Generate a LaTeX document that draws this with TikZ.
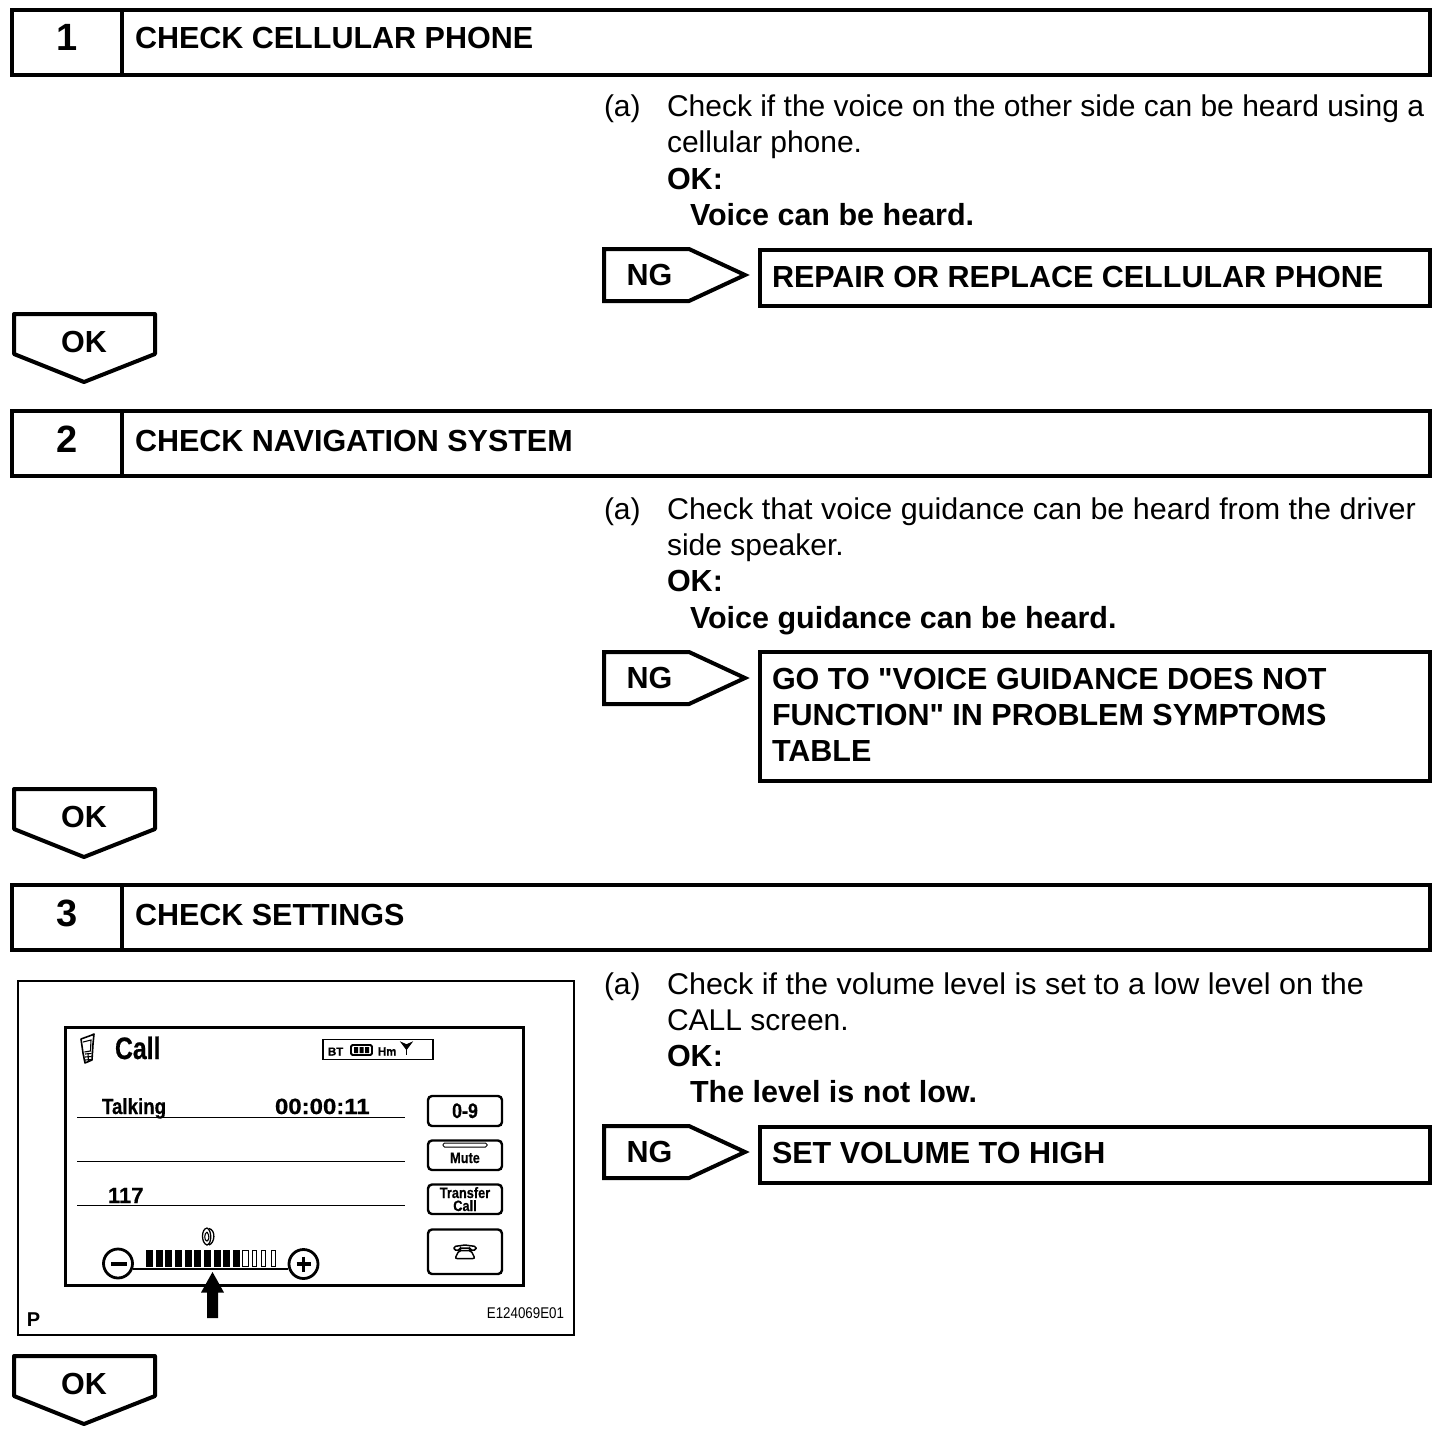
\documentclass[tikz,border=0pt]{standalone}
\usepackage{fontspec}
\setmainfont{Liberation Sans}[Ligatures=TeXOff]
\newcommand{\fsz}[1]{\fontsize{#1}{#1}\selectfont}
\newfontfamily\scrfont{Liberation Sans}[Ligatures=TeXOff,BoldFont={Liberation Sans Bold},BoldFeatures={FakeBold=0.6}]
\tikzset{
  every node/.style={inner sep=0pt,outer sep=0pt,text=black},
  heavy/.style={draw=black,line width=4pt,line join=miter},
  hdr/.style={anchor=base west,font=\fsz{30.5}\bfseries},
  num/.style={anchor=base,font=\fsz{38}\bfseries},
  body/.style={anchor=base west,font=\fsz{30}},
  bodyb/.style={anchor=base west,font=\fsz{30.5}\bfseries},
  act/.style={anchor=base west,font=\fsz{30.5}\bfseries},
  flag/.style={anchor=base,font=\fsz{30.5}\bfseries},
  btn/.style={draw=black,line width=2.4pt,rounded corners=4pt},
  rule/.style={draw=black,line width=1pt},
  scr/.style={anchor=base,font=\scrfont\fsz{#1}\bfseries},
}
\newcommand{\stephead}[4]{% y, number, title, title baseline offset
  \draw[heavy] (12,#1) rectangle (1430,#1+65);
  \draw[heavy] (122,#1) -- (122,#1+65);
  \node[num] (n#2) at (67.5,#1+41) {#2};
  \node[hdr] (t#2) at (135,#1+#4) {#3};
}
\newcommand{\okflag}[2]{% y, name
  \draw[heavy,line join=round] (14,#1) -- (155,#1) -- (155,#1+40) -- (84,#1+68) -- (14,#1+40) -- cycle;
  \node[flag] (#2) at (84,#1+38.5) {OK};
}
\newcommand{\ngflag}[2]{% y, name
  \draw[heavy] (604,#1) -- (689,#1) -- (745,#1+26) -- (689,#1+52) -- (604,#1+52) -- cycle;
  \node[flag] (#2) at (649.5,#1+36) {NG};
}
\begin{document}
\begin{tikzpicture}[x=1pt,y=-1pt]
\useasboundingbox (0,0) rectangle (1456,1450);
% ---------- step 1
\stephead{10}{1}{CHECK CELLULAR PHONE}{39}
\node[body] (a1) at (604,117) {(a)};
\node[body] (a1l1) at (667,117) {Check if the voice on the other side can be heard using a};
\node[body] (a1l2) at (667,153) {cellular phone.};
\node[bodyb] (a1l3) at (667,189.5) {OK:};
\node[bodyb] (a1l4) at (690,225.5) {Voice can be heard.};
\ngflag{249}{ng1}
\draw[heavy] (760,250) rectangle (1430,306);
\node[act] (r1) at (772,287) {REPAIR OR REPLACE CELLULAR PHONE};
\okflag{314}{ok1}
% ---------- step 2
\stephead{411}{2}{CHECK NAVIGATION SYSTEM}{40}
\node[body] (a2) at (604,519) {(a)};
\node[body] (a2l1) at (667,519) {\scalebox{1.016}[1]{Check that voice guidance can be heard from the driver}};
\node[body] (a2l2) at (667,555) {side speaker.};
\node[bodyb] (a2l3) at (667,591.5) {OK:};
\node[bodyb] (a2l4) at (690,628.5) {Voice guidance can be heard.};
\ngflag{652}{ng2}
\draw[heavy] (760,652) rectangle (1430,781);
\node[act] (r2a) at (772,689) {GO TO "VOICE GUIDANCE DOES NOT};
\node[act] (r2b) at (772,725) {FUNCTION" IN PROBLEM SYMPTOMS};
\node[act] (r2c) at (772,761) {TABLE};
\okflag{789}{ok2}
% ---------- step 3
\stephead{885}{3}{CHECK SETTINGS}{40}
\node[body] (a3) at (604,994) {(a)};
\node[body] (a3l1) at (667,994) {\scalebox{1.017}[1]{Check if the volume level is set to a low level on the}};
\node[body] (a3l2) at (667,1030) {CALL screen.};
\node[bodyb] (a3l3) at (667,1066.5) {OK:};
\node[bodyb] (a3l4) at (690,1102.5) {The level is not low.};
\ngflag{1126}{ng3}
\draw[heavy] (760,1127) rectangle (1430,1183);
\node[act] (r3) at (772,1163) {SET VOLUME TO HIGH};
\okflag{1356}{ok3}
% ---------- illustration
\draw[draw=black,line width=2pt] (18,981) rectangle (574,1335);
\draw[draw=black,line width=3pt] (65,1027) rectangle (523,1285);
% cellular phone icon
\draw[line width=1.6pt,fill=white,line join=round] (81,1039) -- (92,1035) -- (94,1034) -- (93,1044) -- (92,1060) -- (85,1063) -- (83,1053) -- cycle;
\draw[line width=1.1pt] (83,1042) -- (91,1040) -- (90.5,1051) -- (84.5,1052);
\foreach \yy in {1054,1057,1060} \draw[line width=1.1pt] (85,\yy) -- (91.5,\yy-.5);
\draw[line width=1.1pt] (88,1053) -- (88.5,1062);
\node[scr=31,anchor=base west] (call) at (115,1059) {\scalebox{.8}[1]{Call}};
% status box
\draw[line width=1.1pt] (323,1039.5) rectangle (433,1059.5);
\node[scr=11.5,anchor=base west] (bt) at (328,1055.5) {BT};
\draw[line width=1.8pt,rounded corners=1.5pt] (351,1045) rectangle (372,1055);
\fill (354,1047) rectangle (358,1053) (359.5,1047) rectangle (363.5,1053) (365,1047) rectangle (369,1053);
\node[scr=12,anchor=base west] (hm) at (378,1055.5) {\scalebox{.95}[1]{Hm}};
\draw[line width=1.4pt,fill=black] (402,1043) -- (406.5,1049) -- (411,1043) -- (406.5,1045) -- cycle;
\draw[line width=1.6pt] (406.5,1047) -- (406.5,1055);
% lines
\draw[rule] (77,1117) -- (405,1117);
\draw[rule] (77,1161) -- (405,1161);
\draw[rule] (77,1205) -- (405,1205);
\node[scr=22,anchor=base west] (talk) at (102,1114) {\scalebox{.85}[1]{Talking}};
\node[scr=22,anchor=base west] (time) at (275,1114) {\scalebox{1.09}[1]{00:00:11}};
\node[scr=22,anchor=base west] (num) at (108,1203) {117};
% buttons
\draw[btn] (428,1096) rectangle (502,1126);
\node[scr=21] (b09) at (465,1118) {\scalebox{.85}[1]{0-9}};
\draw[btn] (428,1140.5) rectangle (502,1170);
\draw[line width=1pt,rounded corners=1.5pt] (443,1143) rectangle (487,1147);
\node[scr=15] (bmute) at (465,1163) {\scalebox{.85}[1]{Mute}};
\draw[btn] (428,1184.5) rectangle (502,1214);
\node[scr=15] (btr) at (465,1198) {\scalebox{.85}[1]{Transfer}};
\node[scr=15] (bca) at (465,1211) {\scalebox{.85}[1]{Call}};
\draw[btn] (428,1229.5) rectangle (502,1274);
% telephone glyph
\draw[line width=1.5pt,rounded corners=1.5pt] (454,1250) -- (454,1246.5) -- (465,1245) -- (476,1246.5) -- (476,1250) -- (470,1250) -- (470,1248) -- (460,1248) -- (460,1250) -- cycle;
\draw[line width=1.5pt,rounded corners=2pt] (459,1250.5) -- (471,1250.5) -- (475,1258.5) -- (455,1258.5) -- cycle;
% volume slider
\draw[line width=2.6pt] (133,1269) -- (288,1269);
\draw[line width=2.8pt,fill=white] (118,1263.5) circle (14.5);
\draw[line width=2.8pt,fill=white] (303.5,1264) circle (14.5);
\draw[line width=3.8pt] (111,1264) -- (127,1264);
\draw[line width=3.8pt] (296.5,1264) -- (311,1264) (303.5,1256.5) -- (303.5,1271.5);
\foreach \i in {0,...,9} \fill (146+9.65*\i,1250) rectangle (153+9.65*\i,1267);
\draw[line width=1pt] (242,1250.5) rectangle (248,1266.5);
\draw[line width=1pt] (252,1250.5) rectangle (256.5,1266.5);
\draw[line width=1pt] (261,1250.5) rectangle (265.5,1266.5);
\draw[line width=1pt] (271,1250.5) rectangle (275.5,1266.5);
% ear icon
\draw[line width=1.3pt] (207,1228) .. controls (201,1229) and (201,1243) .. (207,1245) .. controls (212,1244) and (212,1230) .. (207,1228) -- cycle;
\draw[line width=1.3pt] (209,1228.5) .. controls (216,1230) and (215,1243) .. (209,1245);
\draw[line width=1.1pt] (207,1232) .. controls (204,1233) and (204,1241) .. (207,1241) .. controls (209.5,1240) and (209.5,1235) .. (207,1232);
% arrow
\fill (212.5,1272) -- (224,1292.5) -- (218,1292.5) -- (218,1318) -- (207,1318) -- (207,1292.5) -- (201,1292.5) -- cycle;
% footer
\node[anchor=base west,font=\fsz{20}\bfseries] (p) at (27,1326) {P};
\node[anchor=base east,font=\fsz{15.5}] (code) at (564,1318) {\scalebox{.86}[1]{E124069E01}};
\end{tikzpicture}
\end{document}
